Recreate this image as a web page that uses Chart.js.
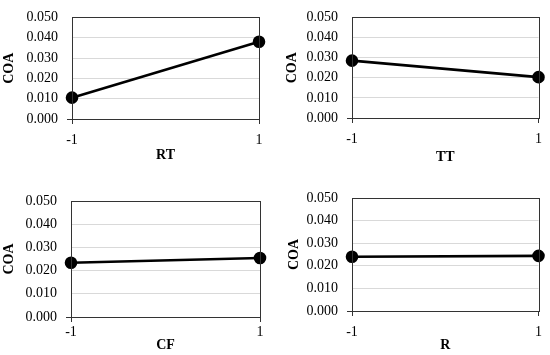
<!DOCTYPE html>
<html>
<head>
<meta charset="utf-8">
<script src="https://cdn.jsdelivr.net/npm/chart.js@4.4.1/dist/chart.umd.min.js"></script>
<style>
  html, body { margin: 0; padding: 0; background: #fff; }
  #wrap { position: relative; width: 550px; height: 355px; }
  .panel { position: absolute; }
</style>
</head>
<body>
<div id="wrap">
  <div class="panel" style="left:0;top:0;width:275px;height:170px"><canvas id="c0"></canvas></div>
  <div class="panel" style="left:275px;top:0;width:275px;height:170px"><canvas id="c1"></canvas></div>
  <div class="panel" style="left:0;top:180px;width:275px;height:175px"><canvas id="c2"></canvas></div>
  <div class="panel" style="left:275px;top:180px;width:275px;height:175px"><canvas id="c3"></canvas></div>
</div>
<script>
// factor levels on x
const levels = [-1, 1];
const xTicks = ["-1", "1"];
const yTicks = ["0.000", "0.010", "0.020", "0.030", "0.040", "0.050"];

// COA at low / high level of each factor
const factorNames = ["RT", "TT", "CF", "R"];
const rtCOA = [0.0105, 0.0380];
const ttCOA = [0.0285, 0.0203];
const cfCOA = [0.0234, 0.0254];
const rCOA = [0.0240, 0.0244];
const coaSeries = [rtCOA, ttCOA, cfCOA, rCOA];

// layout of each panel (plot box inside its canvas)
const panels = [
  { w: 275, h: 170, l: 72, r: 259, t: 11, b: 119, yTitlePad: 1, xGap: 8, xTitlePad: 6 },
  { w: 275, h: 170, l: 77, r: 268, t: 8, b: 118, yTitlePad: 9, xGap: 8, xTitlePad: 4 },
  { w: 275, h: 175, l: 71, r: 260, t: 21, b: 137, yTitlePad: 1, xGap: 2, xTitlePad: 1 },
  { w: 275, h: 175, l: 77, r: 268, t: 18, b: 131, yTitlePad: 11, xGap: 8, xTitlePad: 1 },
];

const FONT = "'Liberation Serif', 'DejaVu Serif', serif";
const AXIS = "#333";

const boxPlugin = {
  id: "box",
  afterDatasetsDraw(chart) {
    const a = chart.chartArea;
    const ctx = chart.ctx;
    ctx.save();
    ctx.strokeStyle = AXIS;
    ctx.lineWidth = 1;
    ctx.strokeRect(Math.round(a.left) + 0.5, Math.round(a.top) + 0.5,
      Math.round(a.right - a.left), Math.round(a.bottom - a.top));
    ctx.restore();
  }
};

function makeChart(i) {
  const p = panels[i];
  const pts = levels.map((x, k) => ({ x: x, y: coaSeries[i][k] }));
  new Chart(document.getElementById("c" + i), {
    type: "line",
    data: {
      datasets: [{
        data: pts,
        borderColor: "#000",
        backgroundColor: "#000",
        borderWidth: 2.6,
        pointRadius: 5,
        pointHoverRadius: 5,
        clip: false,
        tension: 0
      }]
    },
    options: {
      responsive: true,
      maintainAspectRatio: false,
      animation: false,
      events: [],
      layout: { padding: { top: p.t, right: p.w - p.r, left: 0, bottom: 0 } },
      plugins: { legend: { display: false }, tooltip: { enabled: false } },
      scales: {
        x: {
          type: "linear",
          min: -1,
          max: 1,
          afterBuildTicks: (s) => { s.ticks = levels.map(v => ({ value: v })); },
          afterFit: (s) => { s.height = p.h - p.b; },
          ticks: {
            color: "#000",
            font: { family: FONT, size: 14 },
            padding: p.xGap,
            maxRotation: 0,
            callback: (v) => xTicks[levels.indexOf(v)]
          },
          grid: { drawOnChartArea: false, tickLength: 5, tickColor: AXIS },
          border: { color: AXIS, width: 1 },
          title: {
            display: true,
            text: factorNames[i],
            color: "#000",
            font: { family: FONT, size: 14, weight: "bold" },
            padding: { top: 0, bottom: p.xTitlePad }
          }
        },
        y: {
          min: 0,
          max: 0.05,
          afterBuildTicks: (s) => { s.ticks = yTicks.map(v => ({ value: parseFloat(v) })); },
          afterFit: (s) => { s.width = p.l; },
          ticks: {
            color: "#000",
            font: { family: FONT, size: 14 },
            padding: 9,
            callback: (v) => yTicks[Math.round(v * 100)]
          },
          grid: {
            color: "#d9d9d9",
            lineWidth: 1,
            tickLength: 5,
            tickColor: (c) => (c.tick && c.tick.value === 0 ? AXIS : "rgba(0,0,0,0)")
          },
          border: { color: AXIS, width: 1 },
          title: {
            display: true,
            text: "COA",
            color: "#000",
            font: { family: FONT, size: 14, weight: "bold" },
            padding: { top: p.yTitlePad, bottom: 0 }
          }
        }
      }
    },
    plugins: [boxPlugin]
  });
}

for (let i = 0; i < 4; i++) makeChart(i);
</script>
</body>
</html>
